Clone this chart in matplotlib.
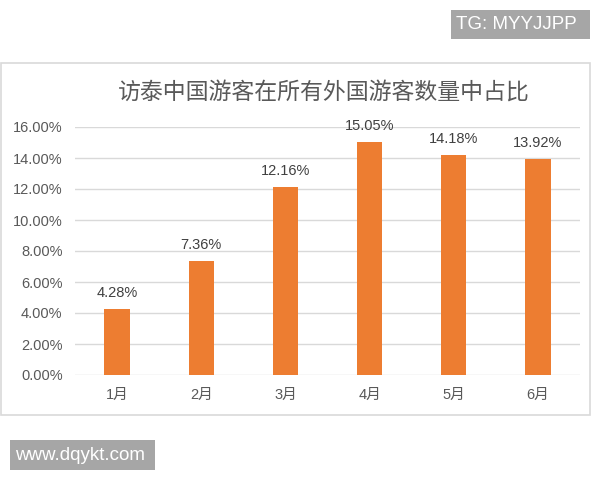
import matplotlib.pyplot as plt
from matplotlib.patches import Rectangle

months = ["1月", "2月", "3月", "4月", "5月", "6月"]
share_pct = [4.28, 7.36, 12.16, 15.05, 14.18, 13.92]
y_ticks = [0, 2, 4, 6, 8, 10, 12, 14, 16]
title = "访泰中国游客在所有外国游客数量中占比"

W, H = 600, 480
fonts = ["Liberation Sans", "Noto Sans CJK SC", "DejaVu Sans"]
plt.rcParams["font.family"] = fonts

fig = plt.figure(figsize=(W / 100, H / 100), dpi=100)
fig.patch.set_facecolor("white")

# chart frame, kept behind the axes
fig.patches.append(
    Rectangle((1 / W, 1 - 415 / H), 589 / W, 352 / H, transform=fig.transFigure,
              facecolor="white", edgecolor="#d9d9d9", lw=1.2, zorder=-1)
)

ax = fig.add_axes([75 / W, 1 - 375 / H, 505 / W, 248 / H])
ax.set_facecolor("none")
xs = range(len(months))
bars = ax.bar(xs, share_pct, width=0.3, color="#ED7D31", zorder=3)
ax.set_xlim(-0.5, len(months) - 0.5)
ax.set_ylim(0, 16)
ax.set_yticks(y_ticks)
ax.set_yticklabels([f"{v:.2f}%" for v in y_ticks])
ax.set_xticks(list(xs))
ax.set_xticklabels(months)
ax.grid(axis="y", color="#d9d9d9", lw=1, zorder=0)
ax.set_axisbelow(True)
for s in ax.spines.values():
    s.set_visible(False)
ax.tick_params(axis="y", length=0, pad=9, labelsize=10.5, labelcolor="#595959")
ax.tick_params(axis="x", length=0, pad=9, labelsize=10.5, labelcolor="#595959")

for b, v in zip(bars, share_pct):
    ax.annotate(f"{v:.2f}%", (b.get_x() + b.get_width() / 2, v),
                xytext=(0, 11.5), textcoords="offset points",
                ha="center", va="center", fontsize=10.5, color="#404040",
                annotation_clip=False)

fig.text(324 / W, 1 - 92 / H, title, ha="center", va="center",
         fontsize=16.5, color="#595959", family=["Noto Sans CJK SC"])

# watermarks
fig.patches.append(
    Rectangle((451 / W, 1 - 39 / H), 139 / W, 29 / H, transform=fig.transFigure,
              facecolor="#a6a6a6", edgecolor="none")
)
fig.text(456 / W, 1 - 24.5 / H, "TG: MYYJJPP", ha="left", va="center",
         fontsize=13.5, color="white")
fig.patches.append(
    Rectangle((10 / W, 1 - 470 / H), 145 / W, 30 / H, transform=fig.transFigure,
              facecolor="#a6a6a6", edgecolor="none")
)
fig.text(15 / W, 1 - 455 / H, "www.dqykt.com", ha="left", va="center",
         fontsize=13.5, color="white")

fig.savefig("out.png", dpi=100)
